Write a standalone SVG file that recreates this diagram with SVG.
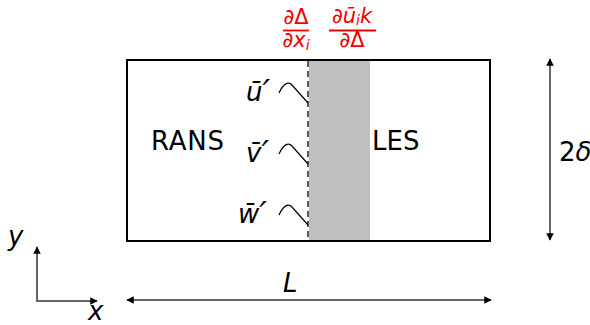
<svg xmlns="http://www.w3.org/2000/svg" width="590" height="325" viewBox="0 0 590 325">
<defs>
<marker id="ah" viewBox="0 0 10 10" refX="9" refY="5" markerWidth="5" markerHeight="5" orient="auto-start-reverse"><path d="M0,0 L10,5 L0,10 z" fill="#000"/></marker>
<style>
text{font-family:"DejaVu Sans",sans-serif;fill:#000}
.lab{font-size:26px}
.it{font-style:italic}
.up{font-style:normal}
.pr{font-size:34px}
.red{fill:#e00;font-size:21px;font-style:italic}
.ax{stroke:#333;stroke-width:1.5;fill:none}
.bump{stroke:#000;stroke-width:1.2;fill:none}
</style>
</defs>
<g id="domain">
<rect x="127" y="60" width="363" height="181" fill="#fff" stroke="#000" stroke-width="2"/>
<rect x="309" y="60" width="61" height="181" fill="#bfbfbf"/>
<line x1="308" y1="61" x2="308" y2="240" stroke="#000" stroke-width="1.3" stroke-dasharray="6,4"/>
<line x1="127" y1="60" x2="490" y2="60" stroke="#000" stroke-width="2"/>
<line x1="127" y1="241" x2="490" y2="241" stroke="#000" stroke-width="2"/>
</g>
<g id="rans"><text class="lab" x="151" y="150" textLength="73">RANS</text></g>
<g id="les"><text class="lab" x="372" y="150">LES</text></g>
<g id="u"><text class="lab it" x="246" y="101">ū<tspan class="pr" dy="3">′</tspan></text><path class="bump" d="M279,93 C283,84 288,81 292,85 L308,103"/></g>
<g id="v"><text class="lab it" x="246" y="162">v̄<tspan class="pr" dy="3">′</tspan></text><path class="bump" d="M279,154 C283,145 288,142 292,146 L308,164"/></g>
<g id="w"><text class="lab it" x="238" y="223">w̄<tspan class="pr" dy="3">′</tspan></text><path class="bump" d="M279,215 C283,206 288,203 292,207 L308,225"/></g>
<g id="terms">
<text class="red" x="296" y="24" text-anchor="middle">∂<tspan class="up">Δ</tspan></text>
<line x1="283" y1="30.5" x2="309" y2="30.5" stroke="#e00" stroke-width="1.8"/>
<text class="red" x="296" y="47" text-anchor="middle">∂x<tspan font-size="14" dy="3">i</tspan></text>
<text class="red" x="352" y="23" text-anchor="middle">∂ū<tspan font-size="14" dy="2">i</tspan><tspan dy="-2">k</tspan></text>
<line x1="329" y1="30.5" x2="376" y2="30.5" stroke="#e00" stroke-width="1.8"/>
<text class="red" x="352" y="47" text-anchor="middle">∂<tspan class="up">Δ</tspan></text>
</g>
<g id="connectors">
<line class="ax" x1="550" y1="59" x2="550" y2="240" stroke="#000" marker-start="url(#ah)" marker-end="url(#ah)"/>
<line class="ax" x1="127" y1="300" x2="491" y2="300" marker-start="url(#ah)" marker-end="url(#ah)"/>
<polyline class="ax" points="37,247 37,301 97,301" marker-start="url(#ah)" marker-end="url(#ah)"/>
</g>
<g id="delta"><text class="lab" x="559" y="161">2<tspan class="it">δ</tspan></text></g>
<g id="Llabel"><text class="lab it" x="283" y="292">L</text></g>
<g id="ylabel"><text class="lab it" x="8" y="245">y</text></g>
<g id="xlabel"><text class="lab it" x="88" y="320">x</text></g>
</svg>
